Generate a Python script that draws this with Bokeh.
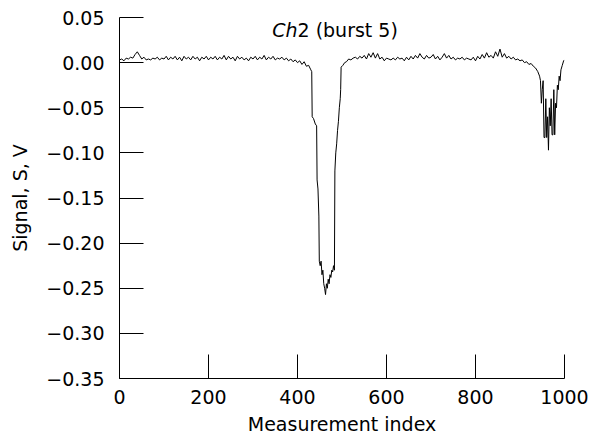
from bokeh.plotting import figure
from bokeh.models import FixedTicker, Label
from bokeh.embed import file_html
from bokeh.resources import INLINE

# ---- data ----
index_base1 = list(range(0, 430, 5))
signal_base1 = [0.003, 0.004, 0.002, 0.005, 0.004, 0.006, 0.005, 0.009, 0.012, 0.008,
                0.004, 0.006, 0.003, 0.004, 0.003, 0.005, 0.004, 0.006, 0.003, 0.005,
                0.004, 0.007, 0.003, 0.006, 0.004, 0.007, 0.003, 0.006, 0.002, 0.007,
                0.004, 0.006, 0.003, 0.007, 0.004, 0.006, 0.002, 0.006, 0.004, 0.007,
                0.003, 0.006, 0.004, 0.007, 0.003, 0.006, 0.004, 0.008, 0.003, 0.007,
                0.004, 0.006, 0.002, 0.007, 0.004, 0.006, 0.003, 0.005, 0.002, 0.006,
                0.004, 0.007, 0.003, 0.006, 0.004, 0.008, 0.003, 0.006, 0.004, 0.007,
                0.003, 0.005, 0.004, 0.006, 0.003, 0.005, 0.002, 0.004, 0.001, 0.003,
                0.000, 0.002, -0.002, 0.001, -0.004, -0.003]

index_dip = [430, 432, 433, 436, 440, 443, 444, 446, 448, 449, 451, 453, 455, 457, 459,
             461, 463, 465, 467, 469, 471, 473, 475, 477, 479, 481, 483, 484, 486, 488,
             490, 492, 494, 496, 497, 498, 502, 506, 510]
signal_dip = [-0.008, -0.010, -0.060, -0.062, -0.068, -0.070, -0.130, -0.140, -0.170, -0.220,
              -0.225, -0.220, -0.235, -0.230, -0.245, -0.250, -0.257, -0.245, -0.250, -0.240,
              -0.245, -0.235, -0.238, -0.230, -0.232, -0.225, -0.230, -0.120, -0.100, -0.090,
              -0.075, -0.065, -0.050, -0.040, -0.030, -0.005, -0.003, 0.000, 0.001]

index_base2 = list(range(515, 945, 5))
signal_base2 = [0.004, 0.003, 0.005, 0.006, 0.004, 0.007, 0.005, 0.008, 0.004, 0.010,
                0.006, 0.011, 0.005, 0.010, 0.004, 0.006, 0.002, 0.005, 0.004, 0.003,
                0.005, 0.003, 0.006, 0.004, 0.005, 0.002, 0.006, 0.003, 0.007, 0.004,
                0.008, 0.005, 0.010, 0.006, 0.004, 0.008, 0.005, 0.006, 0.009, 0.004,
                0.007, 0.003, 0.006, 0.010, 0.005, 0.008, 0.004, 0.006, 0.003, 0.005,
                0.004, 0.006, 0.003, 0.005, 0.004, 0.003, 0.006, 0.002, 0.007, 0.004,
                0.009, 0.005, 0.011, 0.006, 0.008, 0.005, 0.012, 0.007, 0.015, 0.006,
                0.010, 0.005, 0.007, 0.004, 0.006, 0.003, 0.004, 0.002, 0.003, 0.000,
                0.001, -0.002, -0.001, -0.004, -0.006, -0.010]

index_tail = [944, 946, 948, 950, 952, 954, 956, 958, 960, 962, 964, 966, 968, 970, 972,
              974, 976, 978, 980, 982, 984, 986, 988, 990, 992, 995, 998, 1000]
signal_tail = [-0.015, -0.020, -0.045, -0.030, -0.020, -0.083, -0.083, -0.040, -0.083, -0.060,
               -0.097, -0.050, -0.070, -0.040, -0.080, -0.080, -0.030, -0.080, -0.045, -0.050,
               -0.025, -0.030, -0.015, -0.020, -0.008, -0.003, 0.002, 0.003]

x_ticks = [0, 200, 400, 600, 800, 1000]
y_ticks = [0.05, 0.0, -0.05, -0.10, -0.15, -0.20, -0.25, -0.30, -0.35]
y_tick_labels = ["0.05", "0.00", "\u22120.05", "\u22120.10", "\u22120.15", "\u22120.20",
                 "\u22120.25", "\u22120.30", "\u22120.35"]

index = index_base1 + index_dip + index_base2 + index_tail
signal = signal_base1 + signal_dip + signal_base2 + signal_tail

FONT = "DejaVu Sans"
FS = "19px"

p = figure(width=597, height=444, output_backend="svg", toolbar_location=None,
           x_range=(0, 1000), y_range=(-0.35, 0.05),
           min_border_left=119, min_border_right=33, min_border_top=17, min_border_bottom=66)
p.outline_line_color = None
p.xgrid.visible = False
p.ygrid.visible = False
p.background_fill_color = "white"

p.line(index, signal, line_color="black", line_width=1)

for ax in (p.xaxis[0], p.yaxis[0]):
    ax.major_tick_in = 24
    ax.major_tick_out = 0
    ax.minor_tick_in = 0
    ax.minor_tick_out = 0
    ax.axis_line_color = "black"
    ax.major_tick_line_color = "black"
    ax.major_label_text_font = FONT
    ax.major_label_text_font_size = FS
    ax.major_label_text_color = "black"
    ax.axis_label_text_font = FONT
    ax.axis_label_text_font_size = FS
    ax.axis_label_text_font_style = "normal"
    ax.axis_label_text_color = "black"

p.xaxis[0].ticker = FixedTicker(ticks=x_ticks)
p.xaxis[0].major_label_standoff = 11
p.xaxis[0].axis_label = "Measurement index"
p.xaxis[0].axis_label_standoff = 6

p.yaxis[0].ticker = FixedTicker(ticks=y_ticks)
p.yaxis[0].major_label_overrides = {t: s for t, s in zip(y_ticks, y_tick_labels)}
p.yaxis[0].major_label_standoff = 15
p.yaxis[0].axis_label = "Signal, S, V"
p.yaxis[0].axis_label_standoff = 12

p.add_layout(Label(x=400, y=0.0367, text="Ch", text_align="right", text_baseline="alphabetic",
                   text_font=FONT, text_font_size=FS, text_font_style="italic",
                   text_color="black"))
p.add_layout(Label(x=400, y=0.0367, text="2 (burst 5)", text_align="left",
                   text_baseline="alphabetic", text_font=FONT, text_font_size=FS,
                   text_color="black"))

open("out.html", "w").write(file_html(p, INLINE))
